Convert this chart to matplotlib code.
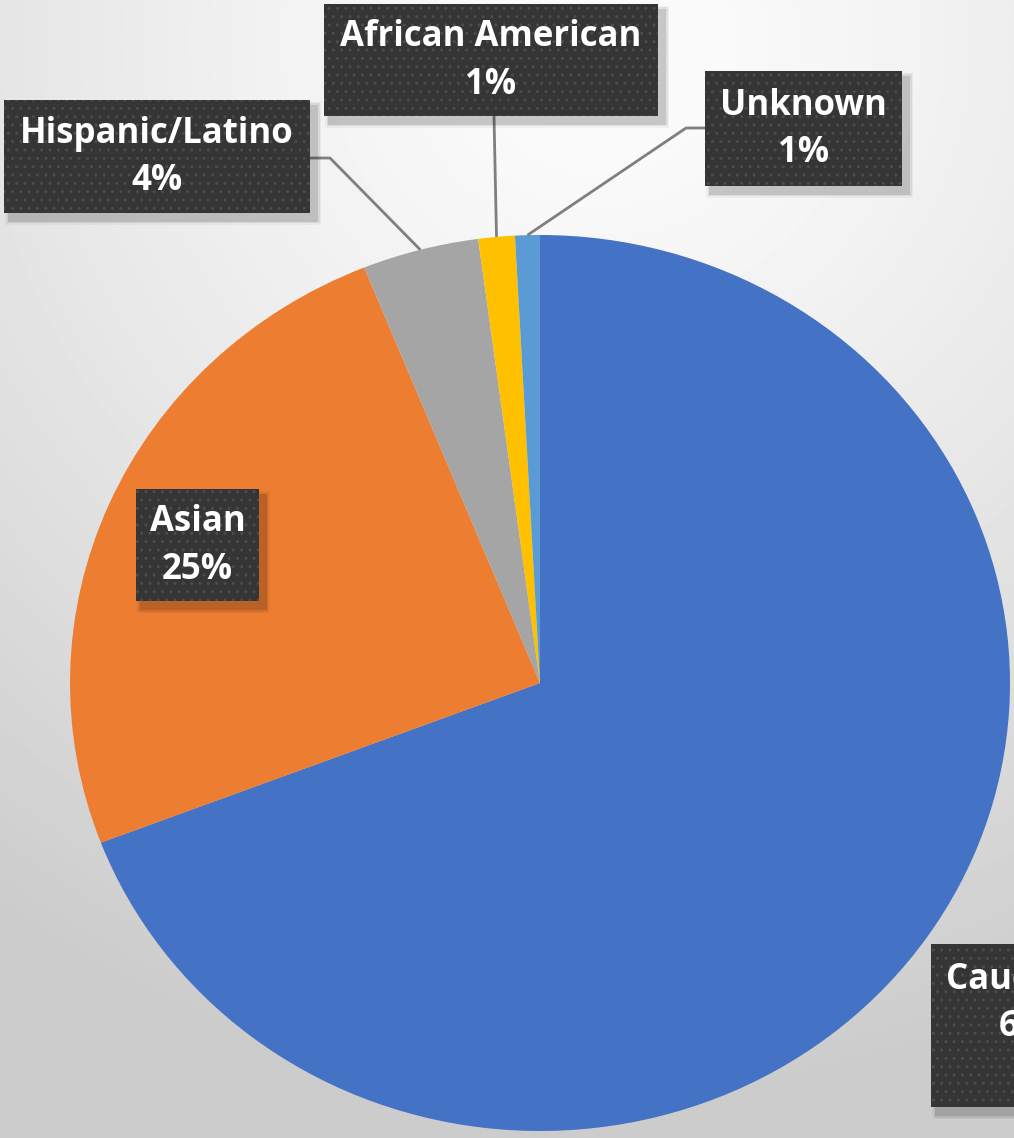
import numpy as np
import matplotlib.pyplot as plt
from matplotlib.patches import Rectangle

# slice data, clockwise from 12 o'clock
labels = ["Caucasian", "Asian", "Hispanic/Latino", "African American", "Unknown"]
values = [69.2, 24.7, 4.0, 1.25, 0.85]
pct_text = ["69%", "25%", "4%", "1%", "1%"]
colors = ["#4472C4", "#ED7D31", "#A5A5A5", "#FFC000", "#5B9BD5"]

W, H = 1014, 1138
CX, CY, RX, RY = 540, 683, 470, 448  # pie centre / radii in pixels


def px(x, y):
    # pixel (from top-left) -> pie axes data coords
    return (x - CX) / RX, (CY - y) / RY


fig = plt.figure(figsize=(W / 100, H / 100), dpi=100)

# soft grey radial background
bg = fig.add_axes([0, 0, 1, 1], zorder=0)
yy, xx = np.mgrid[0:H, 0:W]
d = np.hypot(xx - 600, yy - 40)
shade = 0.99 - 0.19 * np.clip(d / 1050, 0, 1) ** 1.3
bg.imshow(shade, cmap="gray", vmin=0, vmax=1, aspect="auto", interpolation="bilinear")
bg.axis("off")

ax = fig.add_axes([0, 0, 1, 1], zorder=1)
ax.patch.set_alpha(0)
wedges, _ = ax.pie(values, colors=colors, startangle=90, counterclock=False,
                   wedgeprops=dict(linewidth=0))
ax.set_aspect("auto")
x0, y0 = px(0, H)
x1, y1 = px(W, 0)
ax.set_xlim(x0, x1)
ax.set_ylim(y0, y1)
ax.axis("off")

# label boxes in pixels: left, top, width, height
boxes = {
    "Caucasian": (931, 944, 200, 163),
    "Asian": (136, 489, 123, 112),
    "Hispanic/Latino": (4, 100, 306, 113),
    "African American": (324, 4, 334, 112),
    "Unknown": (705, 71, 197, 115),
}
# elbow points of leader lines (pixels)
elbows = {
    "Hispanic/Latino": [(310, 158), (330, 158)],
    "African American": [(494, 116)],
    "Unknown": [(705, 128), (686, 128)],
}

FS = 25
LS = 1.42


def draw_box(x, y, w, h):
    # blurred shadow down-right
    for k, a in [(10, 0.04), (7, 0.07), (4, 0.11)]:
        sx, sy = px(x + 6 - k / 2, y + h + 7 + k / 2)
        ex, ey = px(x + w + 6 + k / 2, y + 7 - k / 2)
        ax.add_patch(Rectangle((sx, sy), ex - sx, ey - sy, facecolor="black",
                               alpha=a, linewidth=0, zorder=4))
    bx, by = px(x, y + h)
    ex, ey = px(x + w, y)
    ax.add_patch(Rectangle((bx, by), ex - bx, ey - by, facecolor="#353535",
                           edgecolor="#4c4c4c", hatch="..", linewidth=0, zorder=5))


for i, w in enumerate(wedges):
    lab = labels[i]
    x, y, bw, bh = boxes[lab]
    draw_box(x, y, bw, bh)
    if lab in elbows:
        mid = np.deg2rad((w.theta1 + w.theta2) / 2)
        pts = [px(*p) for p in elbows[lab]] + [(np.cos(mid), np.sin(mid))]
        ax.plot([p[0] for p in pts], [p[1] for p in pts], color="#7f7f7f",
                lw=2, zorder=3, solid_capstyle="butt")
    if lab == "Caucasian":
        # box runs off the right edge, as in the original
        tx, ty = px(946, y + 18)
        ax.text(tx, ty, lab + "\n" + pct_text[i], ha="left", va="top", color="white",
                fontsize=FS, fontweight="bold", family="Open Sans", zorder=6,
                linespacing=LS, multialignment="center")
    else:
        tx, ty = px(x + bw / 2, y + bh / 2 + 1)
        ax.text(tx, ty, lab + "\n" + pct_text[i], ha="center", va="center",
                color="white", fontsize=FS, fontweight="bold", family="Open Sans",
                zorder=6, linespacing=LS)

fig.savefig("out.png", dpi=100)
